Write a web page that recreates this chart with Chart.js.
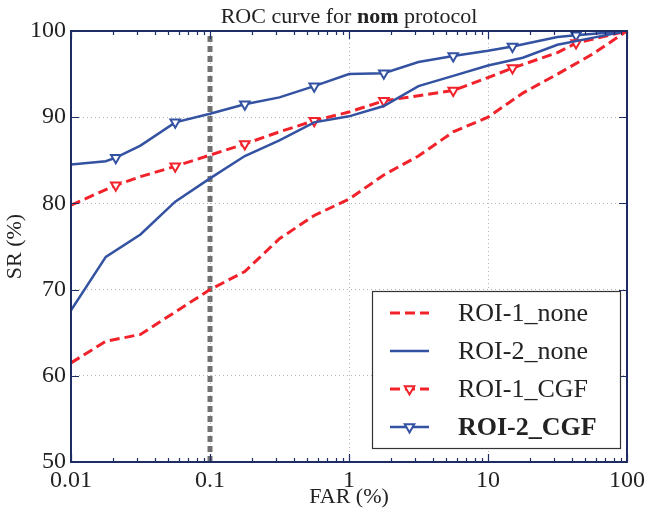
<!DOCTYPE html>
<html>
<head>
<meta charset="utf-8">
<script src="https://cdn.jsdelivr.net/npm/chart.js@4.4.1/dist/chart.umd.min.js"></script>
<style>
  html, body { margin: 0; padding: 0; background: #fff; }
</style>
</head>
<body>
<canvas id="roc" width="651" height="512"></canvas>
<script>
// ROC curve for the nom protocol: SR vs FAR, both in %
const farGrid  = [0.01, 0.0178, 0.0316, 0.0562, 0.1, 0.178, 0.316, 0.562, 1, 1.78, 3.16, 5.62, 10, 17.8, 31.6, 56.2, 100];
const roi1None = [61.5, 64.0, 64.8, 67.4, 70.0, 72.1, 75.9, 78.6, 80.5, 83.3, 85.5, 88.3, 90.0, 92.8, 95.0, 97.3, 100];
const roi2None = [67.6, 73.8, 76.4, 80.2, 82.9, 85.5, 87.3, 89.4, 90.1, 91.3, 93.6, 94.8, 96.0, 96.9, 98.4, 99.2, 100];

const farCgf  = [0.01, 0.0178, 0.021, 0.0316, 0.0562, 0.1, 0.178, 0.316, 0.562, 1, 1.78, 3.16, 5.62, 10, 15, 31.6, 43, 100];
const roi1Cgf = [79.8, 81.6, 82.1, 83.1, 84.3, 85.6, 86.9, 88.3, 89.6, 90.6, 91.9, 92.5, 93.1, 94.6, 95.7, 97.5, 98.6, 100];
const roi2Cgf = [84.5, 84.9, 85.3, 86.7, 89.4, 90.4, 91.5, 92.3, 93.6, 95.0, 95.1, 96.4, 97.1, 97.7, 98.2, 99.3, 99.5, 100];
const markerFar = [0.021, 0.0562, 0.178, 0.562, 1.78, 5.62, 15, 43];

// operating point marker at FAR = 0.1 %
const opFar = [0.1, 0.1];
const opSr  = [50, 100];

const xLabels = ['0.01', '0.1', '1', '10', '100'];
const seriesNames = ['ROI-1_none', 'ROI-2_none', 'ROI-1_CGF', 'ROI-2_CGF'];

const RED = '#f2222b';
const BLUE = '#3452a2';
const FRAME = '#1e2c66';
const TEXT = '#222';
const FONT = '"Liberation Serif", "Times New Roman", serif';

const pts = (xs, ys) => xs.map((x, i) => ({ x, y: ys[i] }));
const isDecade = v => Math.abs(Math.log10(v) - Math.round(Math.log10(v))) < 1e-6;
const markerRadius = ctx => (ctx.raw && markerFar.includes(ctx.raw.x)) ? 5.5 : 0;

const titlePlugin = {
  id: 'richTitle',
  afterDraw(chart) {
    const c = chart.ctx;
    const parts = [['ROC curve for ', ''], ['nom', 'bold '], [' protocol', '']];
    c.save();
    c.fillStyle = TEXT;
    c.textBaseline = 'alphabetic';
    let total = 0;
    parts.forEach(p => { c.font = p[1] + '22px ' + FONT; total += c.measureText(p[0]).width; });
    let x = (chart.chartArea.left + chart.chartArea.right) / 2 - total / 2;
    parts.forEach(p => {
      c.font = p[1] + '22px ' + FONT;
      c.fillText(p[0], x, 23);
      x += c.measureText(p[0]).width;
    });
    c.restore();
  }
};

const framePlugin = {
  id: 'frame',
  afterDatasetsDraw(chart) {
    const c = chart.ctx;
    const a = chart.chartArea;
    const xs = chart.scales.x, ys = chart.scales.y;
    c.save();
    c.strokeStyle = FRAME;
    c.lineWidth = 1.2;
    c.beginPath();
    for (let d = -2; d <= 2; d++) {
      for (let k = 1; k <= 9; k++) {
        const v = k * Math.pow(10, d);
        if (v > 100.0001) break;
        const px = Math.round(xs.getPixelForValue(v)) + 0.5;
        const len = k === 1 ? 8 : 4;
        c.moveTo(px, a.bottom); c.lineTo(px, a.bottom - len);
        c.moveTo(px, a.top); c.lineTo(px, a.top + len);
      }
    }
    [50, 60, 70, 80, 90, 100].forEach(v => {
      const py = Math.round(ys.getPixelForValue(v)) + 0.5;
      c.moveTo(a.left, py); c.lineTo(a.left + 8, py);
      c.moveTo(a.right, py); c.lineTo(a.right - 8, py);
    });
    c.stroke();
    c.lineWidth = 2;
    c.strokeRect(a.left, a.top, a.right - a.left, a.bottom - a.top);
    c.restore();
  }
};

const legendPlugin = {
  id: 'boxLegend',
  afterDraw(chart) {
    const c = chart.ctx;
    const box = { x: 372, y: 291, w: 248, h: 157 };
    const rows = [313, 351, 389, 427];
    c.save();
    c.fillStyle = '#fff';
    c.fillRect(box.x, box.y, box.w, box.h);
    c.strokeStyle = '#333';
    c.lineWidth = 1.2;
    c.strokeRect(box.x + 0.5, box.y + 0.5, box.w, box.h);
    seriesNames.forEach((name, i) => {
      const ds = chart.data.datasets[i];
      const y = rows[i];
      c.strokeStyle = ds.borderColor;
      c.lineWidth = ds.borderWidth;
      c.setLineDash(ds.borderDash || []);
      c.beginPath();
      c.moveTo(390, y); c.lineTo(429, y);
      c.stroke();
      c.setLineDash([]);
      if (i >= 2) {
        // open down-pointing triangle
        const r = 5.5, half = r * Math.sqrt(3) / 2;
        c.fillStyle = '#fff';
        c.lineWidth = 2;
        c.beginPath();
        c.moveTo(409.5 - half, y - r / 2);
        c.lineTo(409.5 + half, y - r / 2);
        c.lineTo(409.5, y + r);
        c.closePath();
        c.fill(); c.stroke();
      }
      c.fillStyle = TEXT;
      c.font = (i === 3 ? 'bold ' : '') + '26px ' + FONT;
      c.textBaseline = 'middle';
      c.fillText(name, 458, y + 1);
    });
    c.restore();
  }
};

new Chart(document.getElementById('roc'), {
  type: 'line',
  data: {
    datasets: [
      { label: seriesNames[0], data: pts(farGrid, roi1None), borderColor: RED, borderWidth: 3,
        borderDash: [10, 5], pointRadius: 0 },
      { label: seriesNames[1], data: pts(farGrid, roi2None), borderColor: BLUE, borderWidth: 2.5,
        pointRadius: 0 },
      { label: seriesNames[2], data: pts(farCgf, roi1Cgf), borderColor: RED, borderWidth: 3,
        borderDash: [10, 5], pointStyle: 'triangle', pointRotation: 180, pointRadius: markerRadius,
        pointBorderWidth: 2, pointBorderColor: RED, pointBackgroundColor: '#fff' },
      { label: seriesNames[3], data: pts(farCgf, roi2Cgf), borderColor: BLUE, borderWidth: 2.5,
        pointStyle: 'triangle', pointRotation: 180, pointRadius: markerRadius,
        pointBorderWidth: 2, pointBorderColor: BLUE, pointBackgroundColor: '#fff' },
      { label: 'FAR 0.1%', data: pts(opFar, opSr), borderColor: '#717171', borderWidth: 5,
        borderDash: [6, 4], pointRadius: 0 }
    ]
  },
  options: {
    responsive: false,
    animation: false,
    devicePixelRatio: 1,
    layout: { padding: { top: 31, right: 24, left: 0, bottom: 0 } },
    elements: { line: { tension: 0, fill: false } },
    plugins: { legend: { display: false }, title: { display: false }, tooltip: { enabled: false } },
    scales: {
      x: {
        type: 'logarithmic',
        min: 0.01, max: 100,
        afterFit: s => { s.height = 50; },
        border: { display: false, dash: [1, 3] },
        grid: {
          drawTicks: false,
          color: ctx => (ctx.tick && isDecade(ctx.tick.value)) ? '#b5b5b5' : 'rgba(0,0,0,0)',
          lineWidth: 1
        },
        ticks: {
          autoSkip: false, maxRotation: 0, padding: 4, color: TEXT,
          font: { family: FONT, size: 24 },
          callback: v => isDecade(v) ? xLabels[Math.round(Math.log10(v)) + 2] : ''
        },
        title: { display: true, text: 'FAR (%)', color: TEXT, font: { family: FONT, size: 22 }, padding: { top: 0, bottom: 2 } }
      },
      y: {
        min: 50, max: 100,
        afterFit: s => { s.width = 71; },
        border: { display: false, dash: [1, 3] },
        grid: { drawTicks: false, color: '#b5b5b5', lineWidth: 1 },
        ticks: { stepSize: 10, padding: 5, color: TEXT, font: { family: FONT, size: 24 } },
        title: { display: true, text: 'SR (%)', color: TEXT, font: { family: FONT, size: 22 }, padding: { top: 2, bottom: 0 } }
      }
    }
  },
  plugins: [framePlugin, titlePlugin, legendPlugin]
});
</script>
</body>
</html>
